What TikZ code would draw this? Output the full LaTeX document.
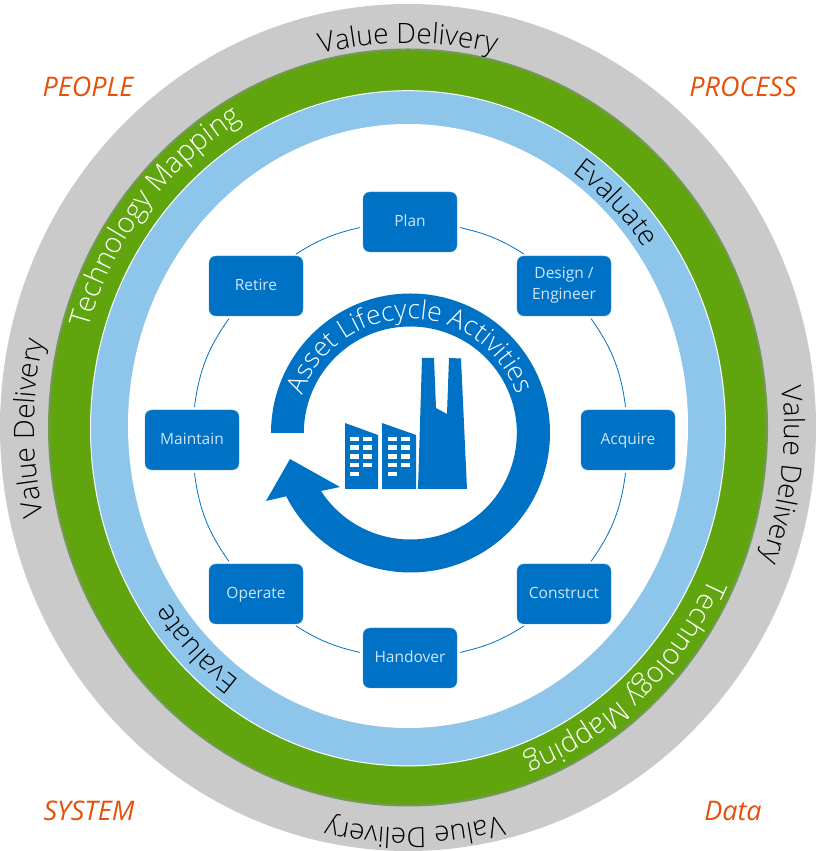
\documentclass[tikz,border=0pt]{standalone}
\usepackage{fontspec}
\setmainfont{Open Sans}
\newfontfamily\lightfont{Open Sans Light}
\usetikzlibrary{decorations.text}
\definecolor{assetblue}{HTML}{0072C6}
\definecolor{boxtext}{HTML}{CFE5F6}
\definecolor{ringgray}{HTML}{CACACA}
\definecolor{ringgreen}{HTML}{60A50E}
\definecolor{ringedge}{HTML}{74975A}
\definecolor{ringblue}{HTML}{8EC5EA}
\definecolor{viewtext}{HTML}{E6500A}
\newcommand{\ringlabel}[7]{\path[decorate,decoration={text along path,text align=center,text={|\color{#5}\lightfont\fontsize{#6}{#6}\selectfont|#7}}]
  (408,423) ++(#3:#1 and #2) arc [start angle=#3,end angle=#4,x radius=#1,y radius=#2];}

\begin{document}
\begin{tikzpicture}[x=1pt,y=1pt,
  stagebox/.style={draw=assetblue!75!white,line width=0.4pt,fill=assetblue,rounded corners=7pt,minimum width=94pt,minimum height=60pt,inner sep=0pt,align=center,text=boxtext,font=\fontsize{15.5}{21}\selectfont,execute at begin node=\strut},
  viewlabel/.style={text=viewtext,font=\fontsize{27}{27}\selectfont\itshape},
  link/.style={draw=assetblue,line width=0.8pt,shorten >=3pt,shorten <=3pt}]
  \useasboundingbox (0,0) rectangle (816,851);
  \fill[ringgray] (408,423.5) ellipse [x radius=408,y radius=423.5];
  \filldraw[fill=ringgreen,draw=ringedge,line width=2pt] (408,423.5) ellipse [x radius=359,y radius=378];
  \filldraw[fill=ringblue,draw=white,line width=1pt] (408,422.7) ellipse [x radius=317.5,y radius=337.6];
  \fill[white] (408,425) ellipse [x radius=280,y radius=302];

  \node[stagebox] (plan) at (410,629) {Plan};
  \node[stagebox] (design) at (564,565) {Design /\\Engineer};
  \node[stagebox] (acquire) at (628,411) {Acquire};
  \node[stagebox] (construct) at (564,257) {Construct};
  \node[stagebox] (handover) at (410,193) {Handover};
  \node[stagebox] (operate) at (256,257) {Operate};
  \node[stagebox] (maintain) at (192,411) {Maintain};
  \node[stagebox] (retire) at (256,565) {Retire};
  \foreach \a/\p/\b/\q/\bend in {plan/-6/design/141/10,design/-50/acquire/94/14,acquire/-94/construct/50/14,construct/-141/handover/6/10,handover/174/operate/-39/10,operate/130/maintain/-86/14,maintain/86/retire/230/14,retire/39/plan/186/10}
    \draw[link] (\a.\p) to[bend left=\bend] (\b.\q);

  \fill[assetblue] (271,418) arc [start angle=180,end angle=-153,radius=139.5] -- (266,350) -- (290,392) -- (340,364) -- (321,360) arc [start angle=-147,end angle=180,radius=106.5] -- cycle;
  \path[decorate,decoration={text along path,text align=center,text={|\color{white}\lightfont\fontsize{26.5}{26.5}\selectfont|Asset Lifecycle Activities}}]
    (410,418) ++(172:114) arc [start angle=172,end angle=8,radius=114];

  \fill[assetblue] (345,428) -- (378,416) -- (378,362) -- (345,362) -- cycle;
  \fill[assetblue] (382,428) -- (416,416) -- (416,362) -- (382,362) -- cycle;
  \fill[assetblue] (418,362) -- (422,493) -- (434,493) -- (436,443) -- (447,437) -- (449,493) -- (461,492.5) -- (467,362) -- cycle;
  \foreach \x in {350,388} \foreach \n in {0,...,4}
    \fill[white] (\x,414.3-8.8*\n) rectangle ++(9.3,-4.3);
  \foreach \x in {363,400.7} \foreach \n in {0,...,3}
    \fill[white] (\x,414.3-8.8*\n) rectangle ++(9.3,-4.3);

  \ringlabel{374}{385}{110}{70}{black}{28}{Value Delivery}
  \ringlabel{374}{385}{210}{150}{black}{28}{Value Delivery}
  \ringlabel{376}{385}{25.5}{-39.5}{black}{28}{Value Delivery}
  \ringlabel{374}{400}{-64}{-114}{black}{28}{Value Delivery}
  \ringlabel{333}{354}{191}{91}{white}{28.5}{Technology Mapping}
  \ringlabel{333}{352}{-3}{-93}{white}{28.5}{Technology Mapping}
  \ringlabel{290}{310}{80}{12}{black}{28}{Evaluate}
  \ringlabel{290}{310}{260}{190}{black}{28}{Evaluate}

  \node[viewlabel] (people) at (88,764) {PEOPLE};
  \node[viewlabel] (process) at (743,764) {PROCESS};
  \node[viewlabel] (system) at (89,40) {SYSTEM};
  \node[viewlabel] (data) at (733,40) {Data};
\end{tikzpicture}
\end{document}
